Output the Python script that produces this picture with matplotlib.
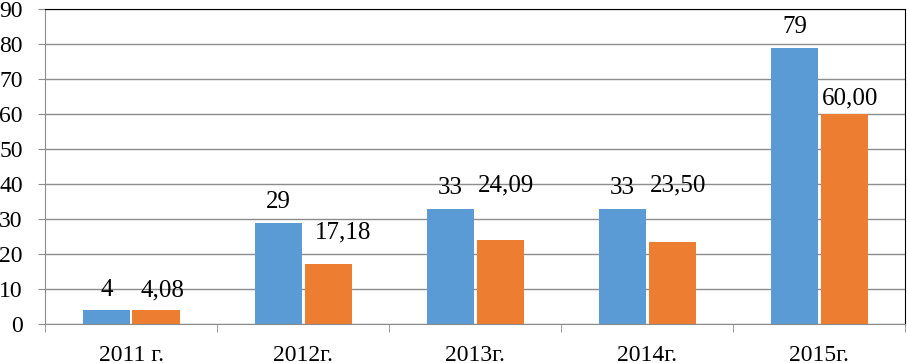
import numpy as np
import matplotlib.pyplot as plt

plt.rcParams['font.family'] = ['Liberation Serif', 'DejaVu Serif']

years = ["2011 г.", "2012г.", "2013г.", "2014г.", "2015г."]
series_a = [4, 29, 33, 33, 79]
series_b = [4.08, 17.18, 24.09, 23.50, 60.00]
labels_a = ["4", "29", "33", "33", "79"]
labels_b = ["4,08", "17,18", "24,09", "23,50", "60,00"]
# label placement as in the original chart (heights in data units, shifts in category units)
label_y_a = [9.7, 35.0, 39.0, 39.0, 85.0]
label_y_b = [9.7, 26.3, 39.7, 39.7, 64.6]
label_dx_b = [0.18, 0.23, 0.18, 0.18, 0.18]

blue = "#5B9BD5"
orange = "#ED7D31"

fig = plt.figure(figsize=(9.07, 3.63), dpi=100)
ax = fig.add_axes([0.0496, 0.1074, 0.9484, 0.8676])

x = np.arange(len(years))
w = 0.275
ax.bar(x - 0.142, series_a, width=w, color=blue, zorder=3)
ax.bar(x + 0.146, series_b, width=w, color=orange, zorder=3)

for i in range(len(years)):
    ax.text(x[i] - 0.142, label_y_a[i], labels_a[i], ha="center", va="center", fontsize=18)
    ax.text(x[i] + label_dx_b[i], label_y_b[i], labels_b[i], ha="center", va="center", fontsize=18)

ax.set_xlim(-0.5, len(years) - 0.5)
ax.set_ylim(0, 90)
ax.set_yticks(np.arange(0, 91, 10))
ax.yaxis.grid(True, color="#8c8c8c", linewidth=1.0, zorder=0)
ax.set_xticks(x)
ax.set_xticklabels(years)
ax.set_xticks(np.arange(-0.5, len(years), 1), minor=True)
ax.tick_params(axis="x", which="major", length=0, pad=15, labelsize=17)
ax.tick_params(axis="x", which="minor", length=6, color="#8c8c8c")
ax.tick_params(axis="y", length=5, color="#8c8c8c", pad=11, labelsize=17)

for s in ["left", "bottom"]:
    ax.spines[s].set_color("#8c8c8c")
for s in ["top", "right"]:
    ax.spines[s].set_color("black")
ax.spines["bottom"].set_zorder(4)

plt.savefig("out.png", dpi=100)
